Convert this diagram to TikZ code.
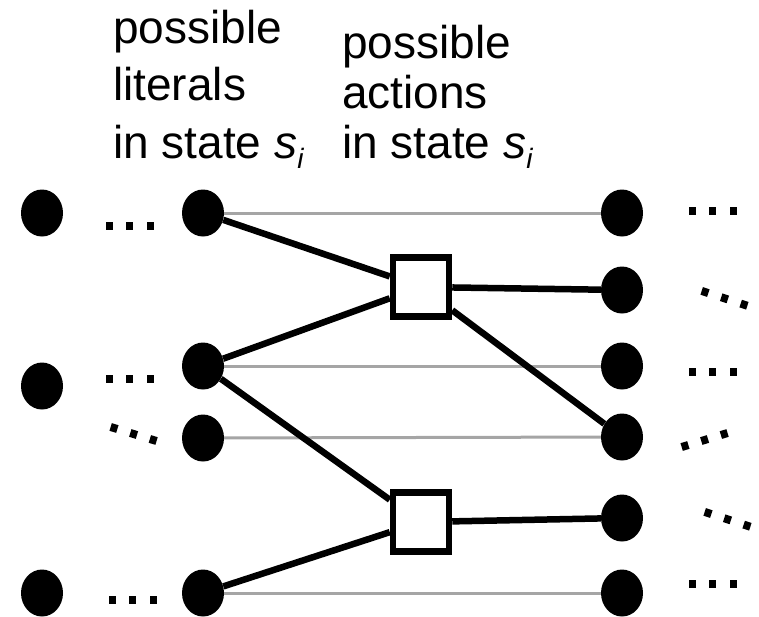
\documentclass[tikz,border=0pt]{standalone}
\usepackage{fontspec}
\setmainfont{Liberation Sans}
\usetikzlibrary{shapes.geometric}
\newcommand\stsub{\textit{s}\raisebox{-0.22em}{\fontsize{28}{28}\selectfont\textit{i}}}
\definecolor{lgray}{RGB}{165,165,165}
\tikzset{
  lit/.style={ellipse, fill=black, inner sep=0pt, minimum width=42pt, minimum height=47pt},
  act/.style={rectangle, draw=black, fill=white, line width=6.5pt, inner sep=0pt, minimum width=56pt, minimum height=59pt},
  strong/.style={line width=6.5pt, black},
  weak/.style={line width=3pt, lgray},
  lbl/.style={anchor=base west, inner sep=0pt, font=\fontsize{46}{57}\selectfont},
  sq/.style={fill=black}
}
\newcommand\threedots[3]{% x y angle
  \foreach \k in {0,1,2}{
    \fill[sq, shift={(#1,#2)}, rotate=#3] (\k*20.5-3.5,-4) rectangle ++(7,8);
  }
}
\begin{document}
\begin{tikzpicture}[x=1pt,y=-1pt]
\useasboundingbox (0,0) rectangle (759,616);
% labels
\node[lbl] (t1a) at (113,43) {possible};
\node[lbl] (t1b) at (113,100) {literals};
\node[lbl] (t1c) at (113,158) {in state \stsub};
\node[lbl] (t2a) at (342,58) {possible};
\node[lbl] (t2b) at (342,108) {actions};
\node[lbl] (t2c) at (342,158) {in state \stsub};
% left column
\node[lit] (a1) at (42,213) {};
\node[lit] (a2) at (42,386) {};
\node[lit] (a3) at (42,593) {};
% literal column
\node[lit] (l1) at (203,213) {};
\node[lit] (l2) at (203,366) {};
\node[lit] (l3) at (203,438) {};
\node[lit] (l4) at (203,593) {};
% actions
\node[act] (x1) at (421,287) {};
\node[act] (x2) at (421,522) {};
% right column
\node[lit] (r1) at (622,213) {};
\node[lit] (r2) at (622,290) {};
\node[lit] (r3) at (622,366) {};
\node[lit] (r4) at (622,437) {};
\node[lit] (r5) at (622,518) {};
\node[lit] (r6) at (622,593) {};
% persistence lines
\draw[weak] (l1) -- (r1);
\draw[weak] (l2) -- (r3);
\draw[weak] (l3) -- (r4);
\draw[weak] (l4) -- (r6);
% precondition / effect lines
\draw[strong] (l1) -- (x1);
\draw[strong] (l2) -- (x1);
\draw[strong] (l2) -- (x2);
\draw[strong] (l4) -- (x2);
\draw[strong] (x1) -- (r2);
\draw[strong] (x1) -- (r4);
\draw[strong] (x2) -- (r5);
% ellipsis dots
\threedots{109}{226}{0}
\threedots{109}{379}{0}
\threedots{114}{428}{-17}
\threedots{112}{600}{0}
\threedots{692}{211}{0}
\threedots{705}{292}{-18}
\threedots{692}{372}{0}
\threedots{685}{446}{17}
\threedots{708}{513}{-18}
\threedots{692}{584}{0}
\end{tikzpicture}
\end{document}
